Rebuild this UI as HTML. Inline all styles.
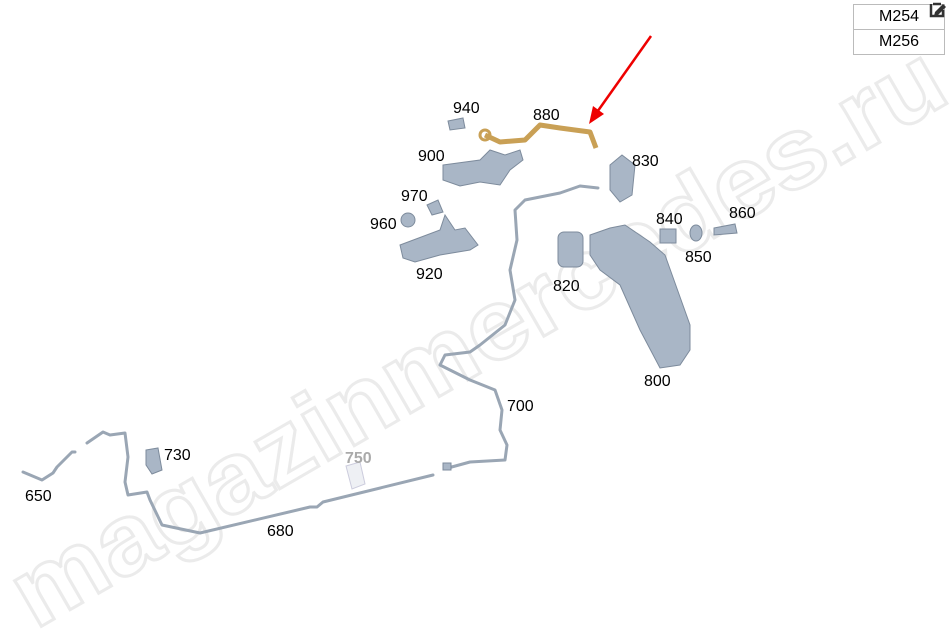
<!DOCTYPE html>
<html><head><meta charset="utf-8"><style>
html,body{margin:0;padding:0;background:#fff;width:950px;height:641px;overflow:hidden;font-family:"Liberation Sans",Arial,sans-serif}
.box{position:absolute;left:853px;width:90px;height:24px;border:1px solid #bbb;text-align:center;font-size:16px;line-height:24px;color:#000;background:#fff}
</style></head><body>
<svg width="950" height="641" style="position:absolute;left:0;top:0">
<g font-family="Liberation Sans,Arial,sans-serif" font-size="100" font-weight="bold" fill="none" stroke="#ebebeb" stroke-width="3">
<text x="0" y="0" transform="translate(35,630) rotate(-30)" textLength="1060" lengthAdjust="spacingAndGlyphs">magazinmercedes.ru</text>
</g>
<g fill="none" stroke="#9aa6b4" stroke-width="3" stroke-linejoin="round" stroke-linecap="round">
<path d="M598,188 L580,186 L560,193 L525,200 L515,210 L517,240 L510,270 L515,300 L505,325 L480,345 L470,352 L445,355 L440,365 L470,380 L495,390 L502,410 L500,430 L507,445 L505,460 L470,462 L448,468"/>
<path d="M87,443 L103,432 L110,435 L125,433 L128,457 L125,482 L128,495 L147,492 L150,500 L162,525 L200,533 L310,507 L317,507 L323,502 L433,475"/>
<path d="M23,472 L42,480 L53,473 L57,467 L72,452 L75,452"/>
</g>
<path d="M485,135 L500,142 L525,140 L540,125 L560,128 L590,132 L596,148" fill="none" stroke="#c9a055" stroke-width="5" stroke-linejoin="round"/>
<circle cx="485" cy="135" r="5" fill="none" stroke="#c9a055" stroke-width="3"/>
<line x1="651" y1="36" x2="595" y2="115" stroke="#e00" stroke-width="2.5"/>
<polygon points="589,124 593,106 604,114" fill="#e00"/>
<g fill="#a9b6c6" stroke="#7d8b9c" stroke-width="1">
<path d="M448,121 L463,118 L465,128 L450,130Z"/>
<path d="M443,165 L480,160 L490,150 L505,155 L520,150 L523,160 L510,170 L500,185 L480,182 L460,186 L443,180Z"/>
<path d="M610,165 L622,155 L635,165 L632,195 L620,202 L610,190Z"/>
<circle cx="408" cy="220" r="7"/>
<path d="M427,205 L438,200 L443,212 L432,215Z"/>
<path d="M400,245 L440,230 L445,215 L455,230 L465,228 L478,245 L470,250 L440,255 L415,262 L403,258Z"/>
<rect x="558" y="232" width="25" height="35" rx="6"/>
<path d="M590,235 L610,228 L625,225 L650,242 L665,255 L690,325 L690,350 L680,365 L660,368 L640,330 L620,285 L600,270 L590,255Z"/>
<rect x="660" y="229" width="16" height="14"/>
<ellipse cx="696" cy="233" rx="6" ry="8"/>
<path d="M714,228 L735,224 L737,233 L714,235Z"/>
<path d="M146,450 L158,448 L162,470 L152,474 L146,465Z"/>
<path d="M346,466 L360,462 L365,484 L352,489Z" fill="#eef0f4" stroke="#ccd"/>
<rect x="443" y="463" width="8" height="7"/>
</g>
<g font-size="16" fill="#000" font-family="Liberation Sans,Arial,sans-serif">
<text x="453" y="113">940</text>
<text x="533" y="120">880</text>
<text x="418" y="161">900</text>
<text x="632" y="166">830</text>
<text x="401" y="201">970</text>
<text x="370" y="229">960</text>
<text x="656" y="224">840</text>
<text x="729" y="218">860</text>
<text x="685" y="262">850</text>
<text x="416" y="279">920</text>
<text x="553" y="291">820</text>
<text x="644" y="386">800</text>
<text x="507" y="411">700</text>
<text x="164" y="460">730</text>
<text x="345" y="463" fill="#aaa" font-weight="bold">750</text>
<text x="25" y="501">650</text>
<text x="267" y="536">680</text>
</g>
</svg>
<div class="box" style="top:4px">M254</div>
<div class="box" style="top:29px">M256</div>
<svg width="18" height="18" style="position:absolute;left:929px;top:1px">
<path d="M4,4 L12,4 M2,4 L2,16 L14,16 L14,10" fill="none" stroke="#333" stroke-width="2.5" transform="translate(0,-1)"/>
<path d="M6,11 L14,3 L17,6 L9,14 L5,15Z" fill="#333"/>
</svg>
</body></html>
